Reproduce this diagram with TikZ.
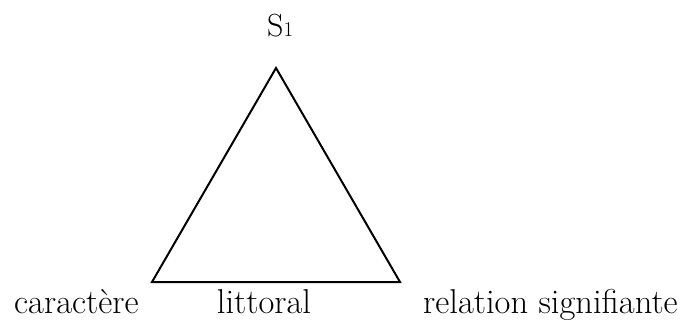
\documentclass[tikz,border=0pt]{standalone}
\usepackage{fontspec}
\usepackage{tikz}
\usetikzlibrary{positioning, calc}

\begin{document}
\begin{tikzpicture}[
  x=1pt, y=-1pt,
  edge/.style={draw, line width=2pt, line join=miter},
  lbl/.style={inner sep=0pt, font=\fontsize{34.5}{40}\selectfont}
  ]
  \useasboundingbox (0,0) rectangle (687,320);
  % triangle
  \coordinate (top) at (276,68);
  \coordinate (left) at (152,282);
  \coordinate (right) at (400,282);
  \draw[edge] (top) -- (left) -- (right) -- cycle;
  % labels
  \node[lbl, anchor=base west, font=\fontsize{32}{38}\selectfont] (sone) at (267,37) {S{\fontsize{21}{24}\selectfont 1}};
  \node[lbl, anchor=base west] (car) at (14,313) {caractère};
  \node[lbl, anchor=base] (lit) at (264,313) {littoral};
  \node[lbl, anchor=base west] (rel) at (423,313) {relation signifiante};
\end{tikzpicture}
\end{document}
